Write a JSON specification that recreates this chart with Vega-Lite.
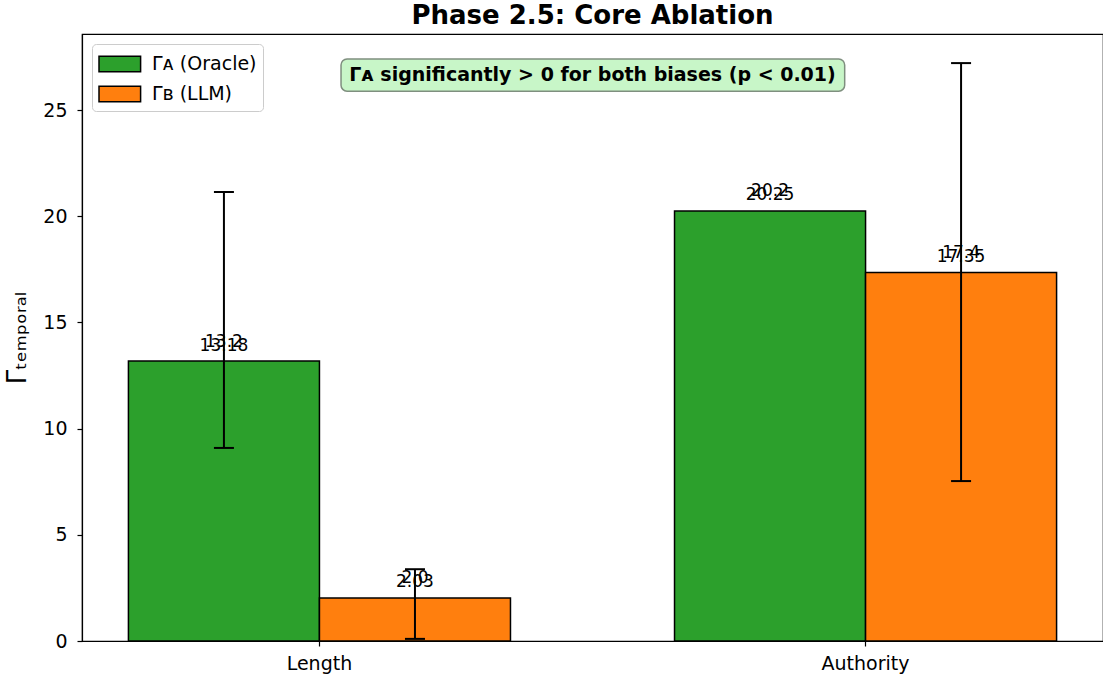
{
  "$schema": "https://vega.github.io/schema/vega-lite/v6.json",
  "width": 1021,
  "height": 607,
  "autosize": {"type": "none"},
  "padding": {"left": 82, "top": 34, "right": 0, "bottom": 33},
  "background": "white",
  "title": {"text": "Phase 2.5: Core Ablation", "font": "DejaVu Sans", "fontSize": 26, "fontWeight": "bold", "color": "black", "anchor": "middle", "offset": 5},
  "config": {
    "font": "DejaVu Sans",
    "view": {"stroke": "black", "strokeWidth": 1.2},
    "axis": {"domainColor": "black", "domainWidth": 1.2, "tickColor": "black", "tickWidth": 1.2, "tickSize": 5, "labelColor": "black", "labelFont": "DejaVu Sans", "labelFontSize": 19, "grid": false, "titleColor": "black", "titleFont": "DejaVu Sans", "titleFontWeight": "normal"}
  },
  "datasets": {
    "bars": [
      {"bias": "Length", "model": "Γᴀ (Oracle)", "value": 13.18, "l1": "13.2", "l2": "13.18", "lo": 9.09, "hi": 21.14},
      {"bias": "Length", "model": "Γʙ (LLM)", "value": 2.03, "l1": "2.0", "l2": "2.03", "lo": 0.1, "hi": 3.38},
      {"bias": "Authority", "model": "Γᴀ (Oracle)", "value": 20.25, "l1": "20.2", "l2": "20.25", "lo": null, "hi": null},
      {"bias": "Authority", "model": "Γʙ (LLM)", "value": 17.35, "l1": "17.4", "l2": "17.35", "lo": 7.53, "hi": 27.21}
    ],
    "note": [
      {"x0": 0.2537, "x1": 0.747, "y0": 25.89, "y1": 27.4, "xm": 0.5, "ym": 26.645, "text": "Γᴀ significantly > 0 for both biases (p < 0.01)"}
    ]
  },
  "layer": [
    {
      "data": {"name": "bars"},
      "encoding": {
        "x": {"field": "bias", "type": "nominal", "sort": ["Length", "Authority"], "scale": {"paddingInner": 0.3004, "paddingOuter": 0.085}, "axis": {"title": null, "labelAngle": 0, "labelPadding": 8}},
        "xOffset": {"field": "model", "type": "nominal", "sort": ["Γᴀ (Oracle)", "Γʙ (LLM)"]}
      },
      "layer": [
        {
          "mark": {"type": "bar", "stroke": "black", "strokeWidth": 1.5},
          "encoding": {
            "y": {"field": "value", "type": "quantitative", "scale": {"domain": [0, 28.58], "nice": false}, "axis": {"values": [0, 5, 10, 15, 20, 25], "title": "Γₜₑₘₚₒᵣₐₗ", "titleFontSize": 26, "titlePadding": 12, "labelPadding": 10}},
            "color": {"field": "model", "type": "nominal", "sort": ["Γᴀ (Oracle)", "Γʙ (LLM)"], "scale": {"domain": ["Γᴀ (Oracle)", "Γʙ (LLM)"], "range": ["#2ca02c", "#ff7f0e"]},
              "legend": {"title": null, "orient": "top-left", "offset": 10, "fillColor": "white", "strokeColor": "#cccccc", "cornerRadius": 4, "padding": 6, "labelFont": "DejaVu Sans", "labelFontSize": 19, "labelColor": "black", "symbolType": "M-1,-0.6H2.2V0.6H-1Z", "symbolSize": 676, "symbolStrokeColor": "black", "symbolStrokeWidth": 1.5, "symbolOpacity": 1, "labelOffset": 26, "rowPadding": 5}}
          }
        },
        {
          "mark": {"type": "text", "dy": -10.5, "baseline": "alphabetic", "fontSize": 17, "color": "black"},
          "encoding": {"y": {"field": "value", "type": "quantitative"}, "text": {"field": "l2"}}
        },
        {
          "mark": {"type": "text", "dy": -14.5, "baseline": "alphabetic", "fontSize": 17, "color": "black"},
          "encoding": {"y": {"field": "value", "type": "quantitative"}, "text": {"field": "l1"}}
        },
        {
          "transform": [{"filter": "datum.lo != null"}],
          "mark": {"type": "rule", "color": "black", "strokeWidth": 2},
          "encoding": {"y": {"field": "lo", "type": "quantitative"}, "y2": {"field": "hi"}}
        },
        {
          "transform": [{"filter": "datum.lo != null"}],
          "mark": {"type": "tick", "color": "black", "thickness": 2, "size": 20, "opacity": 1},
          "encoding": {"y": {"field": "lo", "type": "quantitative"}}
        },
        {
          "transform": [{"filter": "datum.lo != null"}],
          "mark": {"type": "tick", "color": "black", "thickness": 2, "size": 20, "opacity": 1},
          "encoding": {"y": {"field": "hi", "type": "quantitative"}}
        }
      ]
    },
    {
      "data": {"name": "note"},
      "layer": [
        {
          "mark": {"type": "rect", "fill": "#c8f6c8", "stroke": "#7f8f7f", "strokeWidth": 1.5, "cornerRadius": 6},
          "encoding": {
            "x": {"field": "x0", "type": "quantitative", "scale": {"domain": [0, 1], "nice": false, "zero": false}, "axis": null},
            "x2": {"field": "x1"},
            "y": {"field": "y0", "type": "quantitative", "scale": {"domain": [0, 28.58], "nice": false}},
            "y2": {"field": "y1"}
          }
        },
        {
          "mark": {"type": "text", "fontSize": 19, "fontWeight": "bold", "color": "black", "baseline": "middle", "align": "center"},
          "encoding": {
            "x": {"field": "xm", "type": "quantitative", "scale": {"domain": [0, 1], "nice": false, "zero": false}, "axis": null},
            "y": {"field": "ym", "type": "quantitative", "scale": {"domain": [0, 28.58], "nice": false}},
            "text": {"field": "text"}
          }
        }
      ]
    }
  ],
  "resolve": {"scale": {"x": "independent"}}
}
